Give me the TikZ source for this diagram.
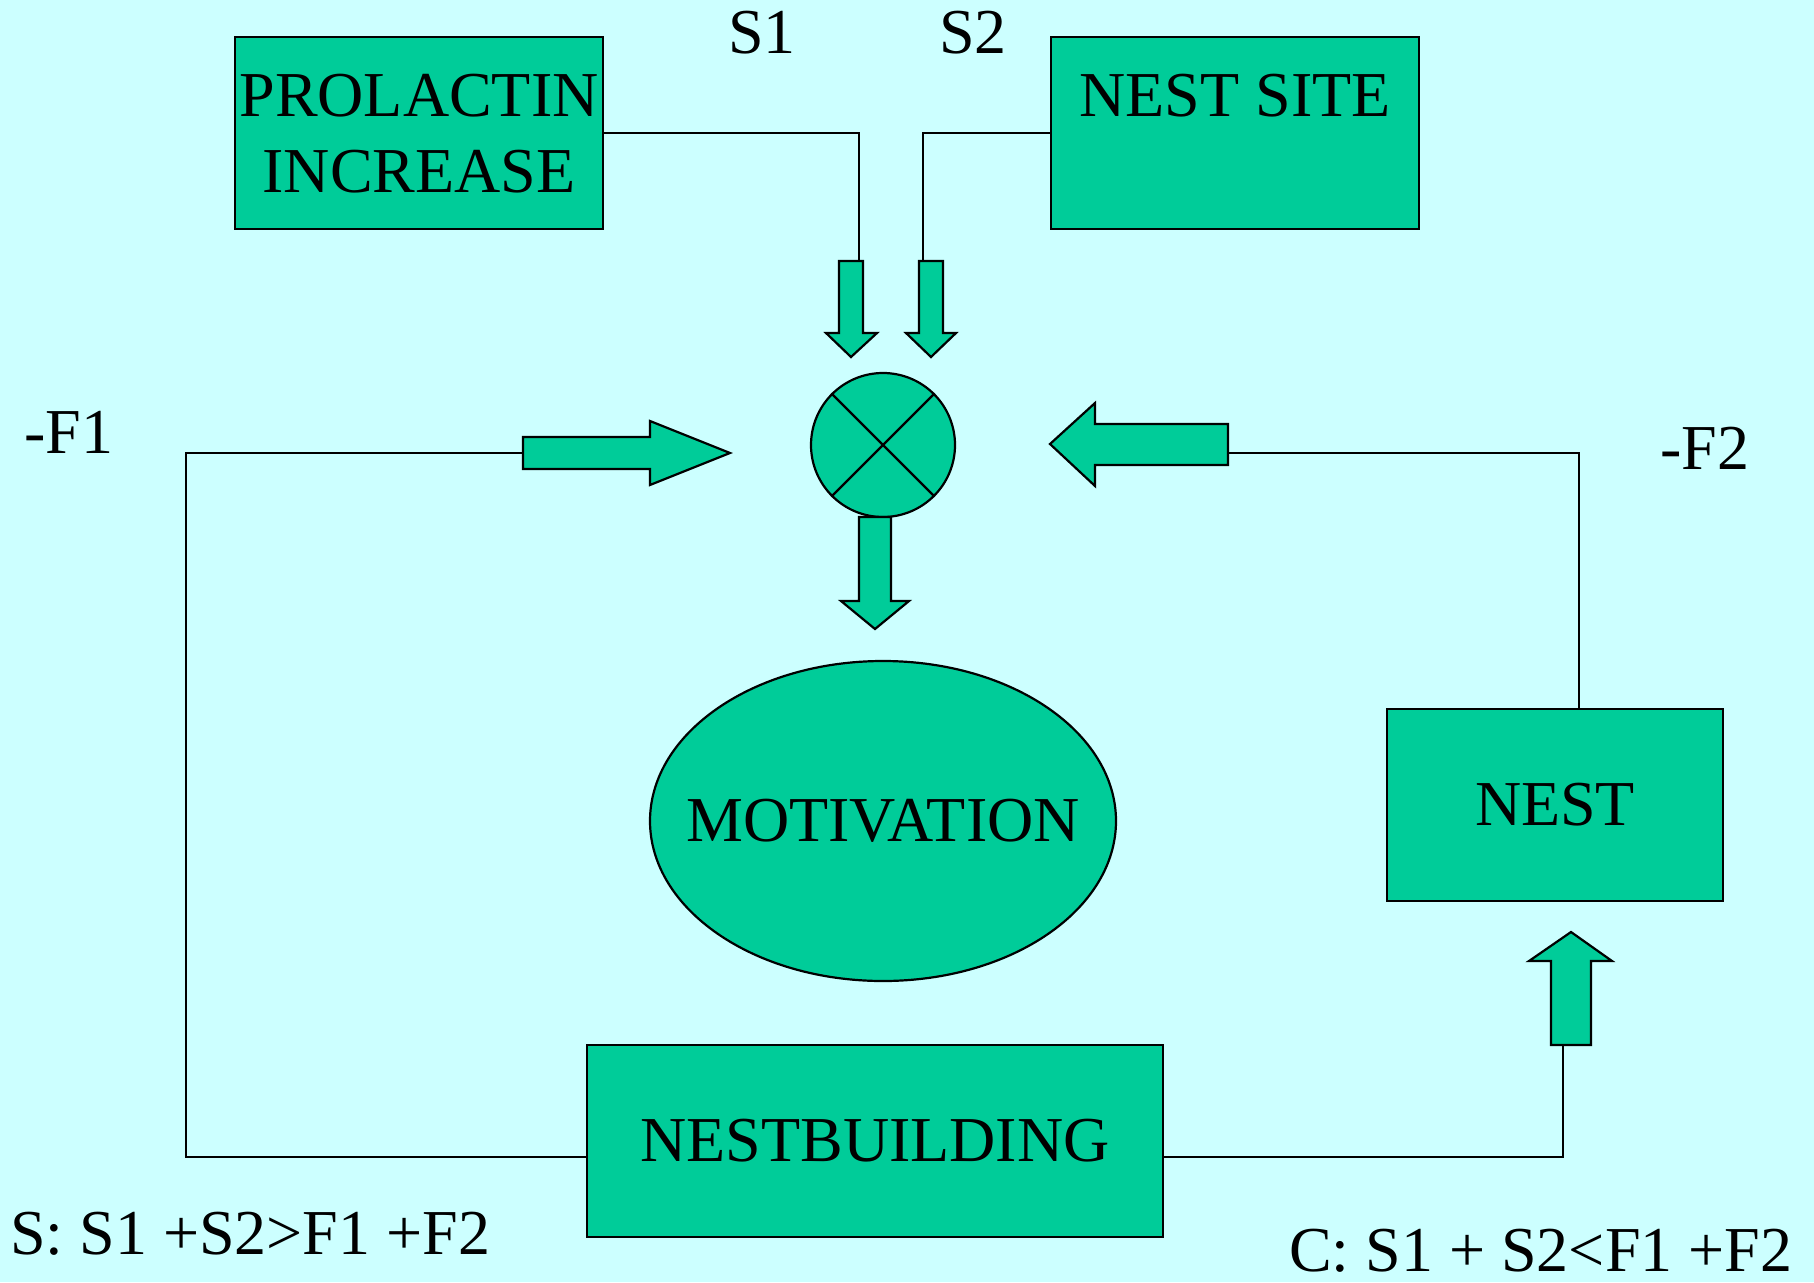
\documentclass[tikz,border=0pt]{standalone}
\usepackage{fontspec}
\setmainfont{Liberation Serif}
\usetikzlibrary{shapes.geometric}
\definecolor{bgc}{HTML}{CCFFFF}
\definecolor{fillc}{HTML}{00CC99}
\begin{document}
\begin{tikzpicture}[x=1pt,y=-1pt,
  every node/.style={font=\fontsize{64}{76}\selectfont, inner sep=0pt},
  box/.style={draw=black, fill=fillc, line width=2.5pt, rectangle, align=center},
  round/.style={draw=black, fill=fillc, line width=2.2pt},
  conn/.style={draw=black, line width=2.2pt},
  barrow/.style={draw=black, fill=fillc, line width=2.2pt, line join=miter},
  lbl/.style={anchor=base}]
\fill[bgc] (0,0) rectangle (1814,1282);
\useasboundingbox (0,0) rectangle (1814,1282);

% boxes
\node[box, minimum width=368pt, minimum height=192pt, text depth=-7pt] (pro) at (419,133) {PROLACTIN\\INCREASE};
\node[box, minimum width=368pt, minimum height=192pt, text depth=-7pt] (site) at (1235,133) {NEST SITE\\\phantom{X}};
\node[round, circle, minimum size=144pt] (circ) at (883,445) {};
\draw[conn] (circ.45) -- (circ.225);
\draw[conn] (circ.135) -- (circ.-45);
\node[round, ellipse, minimum width=466pt, minimum height=320pt] (mot) at (883,821) {\makebox[0pt]{MOTIVATION}};
\node[box, minimum width=336pt, minimum height=192pt] (nest) at (1555,805) {NEST};
\node[box, minimum width=576pt, minimum height=192pt] (nb) at (875,1141) {NESTBUILDING};

% block arrow ends
\coordinate (s1in) at (859,261);
\coordinate (s2in) at (923,261);
\coordinate (f1in) at (523,453);
\coordinate (f2in) at (1228,453);
\coordinate (upin) at (1563,1045);

% connectors
\draw[conn] (pro.east) -| (s1in);
\draw[conn] (site.west) -| (s2in);
\draw[conn] ([yshift=-16pt]nb.west) -- ++(-400,0) |- (f1in);
\draw[conn] ([xshift=24pt]nest.north) |- (f2in);
\draw[conn] ([yshift=-16pt]nb.east) -| (upin);

% block arrows
\draw[barrow] (839,261) -- (863,261) -- (863,333) -- (877,333) -- (851,357) -- (826,333) -- (839,333) -- cycle;
\draw[barrow] (919,261) -- (943,261) -- (943,333) -- (956,333) -- (931,357) -- (906,333) -- (919,333) -- cycle;
\draw[barrow] (859,517) -- (891,517) -- (891,601) -- (909,601) -- (875,629) -- (841,601) -- (859,601) -- cycle;
\draw[barrow] (523,437) -- (650,437) -- (650,421) -- (730,453) -- (650,485) -- (650,469) -- (523,469) -- cycle;
\draw[barrow] (1228,424) -- (1095,424) -- (1095,403) -- (1050,444) -- (1095,486) -- (1095,465) -- (1228,465) -- cycle;
\draw[barrow] (1551,1045) -- (1551,961) -- (1529,961) -- (1571,932) -- (1612,961) -- (1591,961) -- (1591,1045) -- cycle;

% labels
\node[lbl] (s1) at (762,53) {S1};
\node[lbl] (s2) at (973,53) {S2};
\node[lbl] (f1) at (69,453) {-F1};
\node[lbl] (f2) at (1705,469) {-F2};
\node[anchor=base west] (cs) at (10,1254) {S: S1 +S2>F1 +F2};
\node[anchor=base west] (cc) at (1289,1271) {C: S1 + S2<F1 +F2};
\end{tikzpicture}
\end{document}
